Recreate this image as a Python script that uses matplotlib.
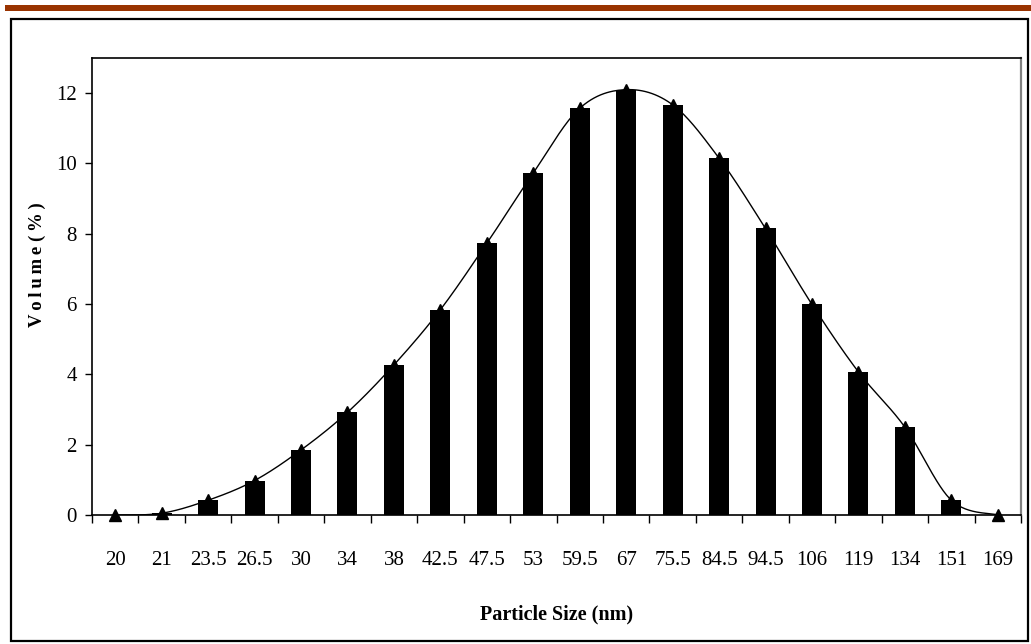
import numpy as np
import matplotlib
matplotlib.use("Agg")
import matplotlib.pyplot as plt
from matplotlib.patches import Rectangle
from matplotlib.ticker import FixedLocator

# Particle size distribution (volume %)
sizes = ["20", "21", "23.5", "26.5", "30", "34", "38", "42.5", "47.5", "53",
         "59.5", "67", "75.5", "84.5", "94.5", "106", "119", "134", "151", "169"]
volume = [0.0, 0.05, 0.42, 0.98, 1.85, 2.92, 4.27, 5.84, 7.73, 9.73,
          11.57, 12.1, 11.67, 10.15, 8.15, 5.99, 4.07, 2.5, 0.42, 0.0]
y_ticks = [0, 2, 4, 6, 8, 10, 12]

plt.rcParams["font.family"] = ["Liberation Serif", "DejaVu Serif"]


def smooth_curve(x, y, steps=30):
    """Cubic Bezier smoothing through each point (Catmull-Rom control points)."""
    x = np.asarray(x, float)
    y = np.asarray(y, float)
    pts = np.column_stack([x, y])
    n = len(pts)
    out = [pts[0]]
    t = np.linspace(0, 1, steps)[1:, None]
    for i in range(n - 1):
        p0 = pts[i - 1] if i > 0 else pts[i]
        p1 = pts[i]
        p2 = pts[i + 1]
        p3 = pts[i + 2] if i + 2 < n else pts[i + 1]
        c1 = p1 + (p2 - p0) / 6.0
        c2 = p2 - (p3 - p1) / 6.0
        seg = ((1 - t) ** 3) * p1 + 3 * ((1 - t) ** 2) * t * c1 \
            + 3 * (1 - t) * t ** 2 * c2 + t ** 3 * p2
        out.extend(seg)
    out = np.array(out)
    return out[:, 0], out[:, 1]


W, H = 1031, 644
fig = plt.figure(figsize=(W / 100, H / 100), dpi=100)

# decorative top rule and outer frame
fig.patches.append(Rectangle((5 / W, 1 - 11 / H), 1 - 5 / W, 6 / H,
                             transform=fig.transFigure, facecolor="#993300",
                             edgecolor="none", zorder=0))
fig.patches.append(Rectangle((11 / W, 1 - 641 / H), 1017 / W, 622 / H,
                             transform=fig.transFigure, facecolor="none",
                             edgecolor="black", linewidth=1.6, zorder=0))

ax = fig.add_axes([92 / W, 1 - 515 / H, (1021 - 92) / W, (515 - 58) / H])

x = np.arange(len(sizes))
sx, sy = smooth_curve(x, volume)
ax.plot(sx, sy, color="black", linewidth=1.0, zorder=2)
ax.plot(x, volume, linestyle="none", marker="^", markersize=8,
        color="black", zorder=2, clip_on=False)
ax.bar(x, volume, width=0.43, color="black", zorder=3)

ax.set_xlim(-0.5, len(sizes) - 0.5)
ax.set_ylim(0, 13)

ax.set_yticks(y_ticks)
ax.set_yticklabels([str(v) for v in y_ticks])
ax.set_xticks(x)
ax.set_xticklabels(sizes)
ax.xaxis.set_minor_locator(FixedLocator(np.arange(len(sizes) + 1) - 0.5))

ax.tick_params(axis="x", which="major", length=0, pad=26, labelsize=15)
ax.tick_params(axis="x", which="minor", length=6, width=1.0, direction="out")
ax.tick_params(axis="y", length=5, width=1.0, pad=6, labelsize=15)

for side in ("left", "top", "bottom"):
    ax.spines[side].set_linewidth(1.2)
    ax.spines[side].set_color("black")
ax.spines["right"].set_linewidth(1.6)
ax.spines["right"].set_color("#808080")

ax.set_xlabel("Particle Size (nm)", fontsize=14.5, fontweight="bold")
ax.xaxis.set_label_coords(0.5, -0.195)
ax.set_ylabel("V\u2009o\u2009l\u2009u\u2009m\u2009e (\u2009%\u2009)",
              fontsize=13.5, fontweight="bold")
ax.yaxis.set_label_coords(-0.05, 0.547)

fig.savefig("out.png", dpi=100)
